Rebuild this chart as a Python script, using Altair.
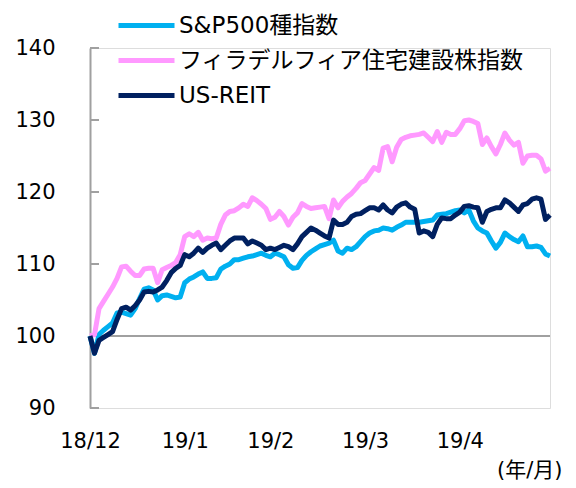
import altair as alt
import pandas as pd

# ---- data (index = trading day since 2018/12/31, 100 = base) ----
series_names = ["S&P500種指数", "フィラデルフィア住宅建設株指数", "US-REIT"]
series_colors = ["#00B0F0", "#FF99FF", "#002060"]

sp500 = [100, 97.6, 100.2, 100.8, 101.3, 101.8, 103.2, 103.3, 103.1, 102.9,
         103.8, 105.2, 106.5, 106.7, 106.4, 105.0, 105.6, 105.7, 105.5, 105.3,
         105.4, 107.4, 107.9, 108.2, 108.6, 108.9, 108.0, 108.0, 108.1, 109.3,
         109.7, 110.0, 110.6, 110.6, 110.8, 111.0, 111.1, 111.3, 111.5, 111.2,
         111.0, 111.5, 111.3, 111.0, 109.9, 109.4, 109.5, 110.5, 111.2, 111.7,
         112.1, 112.5, 112.7, 112.9, 113.3, 111.8, 111.5, 112.2, 112.0, 112.4,
         113.1, 113.8, 114.3, 114.6, 114.7, 115.0, 114.9, 114.7, 115.1, 115.4,
         115.8, 115.8, 115.8, 115.8, 115.9, 116.0, 116.1, 116.8, 116.9, 117.0,
         117.2, 117.4, 117.5, 117.1, 117.5, 116.0, 115.0, 114.6, 114.3, 113.2,
         112.2, 113.0, 114.3, 113.8, 113.4, 113.1, 113.9, 112.4, 112.4, 112.5,
         112.3, 111.4, 111.1]

housing = [100, 100.2, 103.8, 104.8, 105.8, 106.8, 108.0, 109.6, 109.7, 109.0,
           108.4, 108.4, 109.3, 109.4, 109.4, 107.4, 109.2, 109.5, 109.8, 110.2,
           111.3, 113.8, 114.2, 113.8, 114.4, 113.3, 113.6, 113.5, 113.6, 115.5,
           116.8, 117.3, 117.4, 117.8, 118.3, 118.0, 119.2, 118.8, 118.3, 117.7,
           116.2, 116.5, 117.3, 116.6, 115.4, 116.5, 117.1, 118.4, 118.0, 117.7,
           117.8, 117.9, 118.0, 116.3, 118.9, 117.8, 118.7, 119.3, 119.8, 120.5,
           121.3, 121.6, 122.5, 123.4, 123.0, 126.1, 126.3, 124.2, 126.2, 127.3,
           127.6, 127.8, 127.9, 128.0, 128.2, 127.6, 127.0, 128.4, 126.9, 128.3,
           128.0, 128.0, 128.8, 129.9, 130.0, 129.8, 129.5, 126.6, 127.5, 126.3,
           125.3, 126.6, 128.2, 127.2, 126.5, 126.9, 124.0, 125.0, 125.1, 125.1,
           124.6, 122.9, 123.3]

reit = [100, 97.6, 99.4, 99.8, 100.2, 100.6, 102.3, 103.8, 104.0, 103.6,
        104.2, 105.0, 106.1, 106.2, 106.1, 106.4, 106.8, 107.7, 108.8, 109.4,
        109.8, 111.3, 111.0, 111.5, 112.2, 111.6, 112.2, 112.6, 112.9, 112.0,
        112.6, 113.2, 113.6, 113.6, 113.6, 112.8, 113.2, 112.9, 112.6, 112.0,
        112.2, 112.0, 112.3, 112.6, 112.4, 112.0, 112.8, 113.8, 114.4, 115.0,
        114.7, 114.3, 113.9, 113.6, 116.1, 115.5, 115.5, 115.8, 116.6, 116.9,
        117.0, 117.4, 117.8, 117.8, 117.5, 118.2, 117.5, 117.1, 117.9, 118.3,
        118.5, 117.9, 117.6, 114.3, 114.6, 114.4, 113.8, 115.5, 116.4, 116.3,
        116.3, 116.8, 117.2, 118.0, 118.1, 117.9, 117.8, 115.8, 117.3, 117.6,
        117.8, 117.8, 118.9, 118.5, 117.9, 117.3, 118.2, 118.4, 119.0, 119.2,
        119.0, 116.2, 116.8]

x_tick_index = [0, 21, 40, 61, 82]
x_tick_labels = ["18/12", "19/1", "19/2", "19/3", "19/4"]
y_ticks = [90, 100, 110, 120, 130, 140]
base_value = [100]

# ---- build tables ----
rows = []
for name, vals in zip(series_names, [sp500, housing, reit]):
    for i, v in enumerate(vals):
        rows.append({"idx": i, "value": v, "series": name})
df = pd.DataFrame(rows)

label_map = "{" + ",".join(f"'{i}':'{l}'" for i, l in zip(x_tick_index, x_tick_labels)) + "}"

FONT = "DejaVu Sans, Noto Sans CJK JP"
GRAY = "#A0A0A0"

x_scale = alt.Scale(domain=[0, len(sp500) - 1], nice=False, zero=False)
y_scale = alt.Scale(domain=[90, 140], nice=False, zero=False)

lines = alt.Chart(df).mark_line(strokeWidth=5, strokeJoin="round").encode(
    x=alt.X("idx:Q", scale=x_scale,
            axis=alt.Axis(values=x_tick_index, labelExpr=f"{label_map}[datum.value]",
                          domain=False, ticks=False, grid=False, labelPadding=22,
                          labelFontSize=21, labelFont=FONT, labelColor="#000000",
                          labelFlush=False,
                          title="(年/月)", titleFont=FONT, titleFontSize=21,
                          titleFontWeight="normal", titleColor="#000000",
                          titleAlign="right", titleAnchor="end",
                          titleX=472, titleY=62, titleBaseline="middle")),
    y=alt.Y("value:Q", scale=y_scale,
            axis=alt.Axis(values=y_ticks, domain=True, domainColor=GRAY, domainWidth=2,
                          ticks=False, grid=False, labelPadding=35, labelFontSize=21,
                          labelFont=FONT, labelColor="#000000", title=None)),
    color=alt.Color("series:N",
                    scale=alt.Scale(domain=series_names, range=series_colors),
                    legend=alt.Legend(title=None, orient="none", legendX=26, legendY=-40,
                                      symbolType="stroke", symbolSize=3136,
                                      symbolStrokeWidth=5, labelFontSize=23,
                                      labelFont=FONT, labelColor="#000000",
                                      labelOffset=2, rowPadding=0, padding=0,
                                      clipHeight=35, labelLimit=500)),
    order=alt.Order("idx:Q"),
)

base_rule = alt.Chart(pd.DataFrame({"v": base_value})).mark_rule(
    color=GRAY, strokeWidth=2).encode(y=alt.Y("v:Q", scale=y_scale))

tick_marks = alt.Chart(pd.DataFrame({"t": y_ticks})).mark_rule(
    color=GRAY, strokeWidth=2).encode(
    y=alt.Y("t:Q", scale=y_scale), x=alt.value(0), x2=alt.value(9))

chart = alt.layer(base_rule, tick_marks, lines).properties(
    width=460, height=360,
    autosize=alt.AutoSizeParams(type="none"),
    padding={"left": 82, "top": 40, "right": 18, "bottom": 72},
).configure_view(stroke=None).configure(background="white")

chart.save("out.html", embed_options={"renderer": "svg", "actions": False})
